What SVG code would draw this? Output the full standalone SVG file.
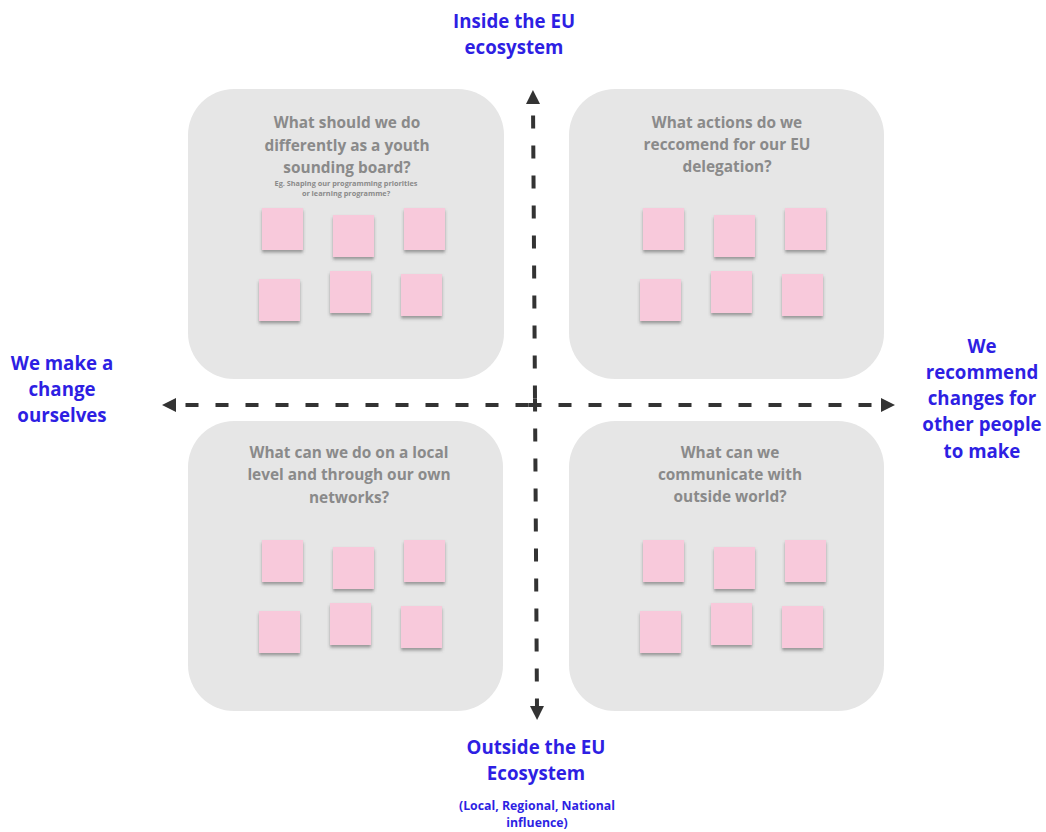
<svg xmlns="http://www.w3.org/2000/svg" width="1046" height="832" viewBox="0 0 1046 832">
<style>
.box{fill:#e6e6e6}
.q{font-family:"Open Sans","Liberation Sans",sans-serif;font-weight:700;font-size:15.4px;fill:#8a8a8a;text-anchor:middle}
.qs{font-family:"Open Sans","Liberation Sans",sans-serif;font-weight:700;font-size:7.3px;fill:#8a8a8a;text-anchor:middle}
.ax{font-family:"Open Sans","Liberation Sans",sans-serif;font-weight:700;font-size:18.7px;fill:#2e1fe3;text-anchor:middle}
.axs{font-family:"Open Sans","Liberation Sans",sans-serif;font-weight:700;font-size:12.3px;fill:#2e1fe3;text-anchor:middle}
.note{fill:#f8c9db;filter:url(#sh)}
.axis{stroke:#333;stroke-width:4;stroke-dasharray:13 17;fill:none}
</style>
<defs>
<filter id="sh" x="-20%" y="-20%" width="140%" height="150%">
<feDropShadow dx="0" dy="2.5" stdDeviation="1.6" flood-color="#555" flood-opacity="0.55"/>
</filter>
<marker id="ah" markerUnits="userSpaceOnUse" markerWidth="16" markerHeight="16" refX="2" refY="7" orient="auto">
<path d="M0,0 L14,7 L0,14 z" fill="#333"/>
</marker>
<g id="notes">
<rect class="note" x="0" y="0" width="41" height="42"/>
<rect class="note" x="71" y="7" width="41" height="42"/>
<rect class="note" x="142" y="0" width="41" height="42"/>
<rect class="note" x="-3" y="71" width="41" height="42"/>
<rect class="note" x="68" y="63" width="41" height="42"/>
<rect class="note" x="139" y="66" width="41" height="42"/>
</g>
</defs>
<rect width="1046" height="832" fill="#ffffff"/>

<g id="q-top-left">
<rect class="box" x="188" y="89" width="316" height="290" rx="46"/>
<text class="q" x="347" y="128">What should we do</text>
<text class="q" x="347" y="151">differently as a youth</text>
<text class="q" x="347" y="173">sounding board?</text>
<text class="qs" x="346" y="186">Eg. Shaping our programming priorities</text>
<text class="qs" x="346" y="196">or learning programme?</text>
<use href="#notes" x="262" y="208"/>
</g>

<g id="q-top-right">
<rect class="box" x="569" y="89" width="315" height="290" rx="46"/>
<text class="q" x="727" y="128">What actions do we</text>
<text class="q" x="727" y="150">reccomend for our EU</text>
<text class="q" x="727" y="172">delegation?</text>
<use href="#notes" x="643" y="208"/>
</g>

<g id="q-bottom-left">
<rect class="box" x="188" y="421" width="315" height="290" rx="46"/>
<text class="q" x="349" y="458">What can we do on a local</text>
<text class="q" x="349" y="480">level and through our own</text>
<text class="q" x="349" y="503">networks?</text>
<use href="#notes" x="262" y="540"/>
</g>

<g id="q-bottom-right">
<rect class="box" x="569" y="421" width="315" height="290" rx="46"/>
<text class="q" x="730" y="458">What can we</text>
<text class="q" x="730" y="480">communicate with</text>
<text class="q" x="730" y="502">outside world?</text>
<use href="#notes" x="643" y="540"/>
</g>

<g id="connectors">
<line class="axis" x1="535" y1="398.5" x2="533" y2="102" marker-end="url(#ah)"/>
<line class="axis" x1="535" y1="398.5" x2="537" y2="708" marker-end="url(#ah)"/>
<line class="axis" x1="528.5" y1="405" x2="174" y2="405" marker-end="url(#ah)"/>
<line class="axis" x1="528.5" y1="405" x2="883" y2="405" marker-end="url(#ah)"/>
</g>

<g id="label-top">
<text class="ax" x="514" y="28">Inside the EU</text>
<text class="ax" x="514" y="54">ecosystem</text>
</g>
<g id="label-bottom">
<text class="ax" x="536" y="754">Outside the EU</text>
<text class="ax" x="536" y="780">Ecosystem</text>
<text class="axs" x="537" y="810">(Local, Regional, National</text>
<text class="axs" x="537" y="827">influence)</text>
</g>
<g id="label-left">
<text class="ax" x="62" y="370">We make a</text>
<text class="ax" x="62" y="396">change</text>
<text class="ax" x="62" y="422">ourselves</text>
</g>
<g id="label-right">
<text class="ax" x="982" y="353">We</text>
<text class="ax" x="982" y="379">recommend</text>
<text class="ax" x="982" y="405">changes for</text>
<text class="ax" x="982" y="431">other people</text>
<text class="ax" x="982" y="458">to make</text>
</g>
</svg>
